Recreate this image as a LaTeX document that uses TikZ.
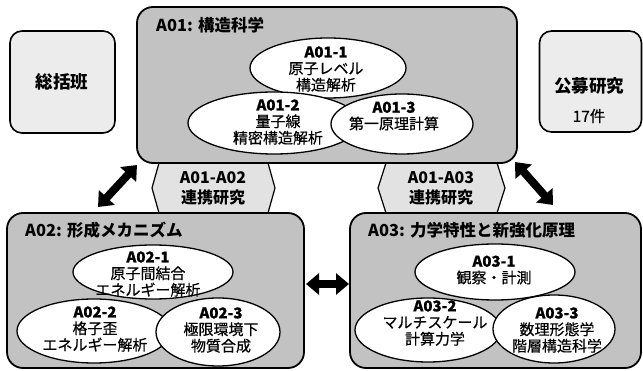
\documentclass[tikz,border=0pt]{standalone}
\usepackage{fontspec}
\setmainfont{Noto Sans CJK JP}
\newfontfamily\medfont[FakeBold=0.5]{Noto Sans CJK JP}
\usetikzlibrary{arrows.meta,shapes.geometric}
\definecolor{boxgray}{RGB}{194,194,194}
\definecolor{lightbox}{RGB}{236,236,236}
\definecolor{hexgray}{RGB}{226,226,226}
\begin{document}
\begin{tikzpicture}[x=1pt,y=-1pt,
  grp/.style={draw=black,line width=1.8pt,fill=boxgray,rounded corners=16pt,inner sep=0pt},
  side/.style={draw=black,line width=1.6pt,fill=lightbox,rounded corners=12pt,inner sep=0pt},
  sub/.style={ellipse,draw=black,line width=1.3pt,fill=white,inner sep=0pt},
  subtext/.style={align=center,inner sep=0pt,font=\medfont\fontsize{15}{16.5}\selectfont},
  title/.style={anchor=west,inner sep=0pt,font=\bfseries\fontsize{16.5}{18}\selectfont},
  hexa/.style={draw=black,line width=1.2pt,fill=hexgray},
  hextext/.style={align=center,inner sep=0pt,font=\bfseries\fontsize{16}{20}\selectfont},
  sidetext/.style={inner sep=0pt,font=\bfseries\fontsize{17.5}{20}\selectfont},
  link/.style={line width=8pt,{Triangle[width=21pt,length=13pt]}-{Triangle[width=21pt,length=13pt]}}
]
\useasboundingbox (0,0) rectangle (643,371);
% connector hexagons (behind boxes)
\draw[hexa] (152,188) -- (159,163) -- (268,163) -- (275,188) -- (268,213) -- (159,213) -- cycle;
\draw[hexa] (378,188) -- (386,163) -- (497,163) -- (505,188) -- (497,213) -- (386,213) -- cycle;
\node[hextext] (h12) at (213,188) {A01-A02\\連携研究};
\node[hextext] (h13) at (441,188) {A01-A03\\連携研究};
% side boxes
\node[side,minimum width=105pt,minimum height=102pt] (sokatsu) at (62.5,82) {};
\node[sidetext] (sokatsut) at (62,82) {総括班};
\node[side,minimum width=102pt,minimum height=101pt] (kobo) at (590.5,81.5) {};
\node[sidetext] (kobot) at (589,86) {公募研究};
\node[inner sep=0pt,font=\medfont\fontsize{15.5}{18}\selectfont] (kobon) at (589,116) {17件};
% group boxes
\node[grp,minimum width=380pt,minimum height=156pt] (a01) at (327,85) {};
\node[grp,minimum width=297pt,minimum height=155pt] (a02) at (155.5,290.5) {};
\node[grp,minimum width=291pt,minimum height=155pt] (a03) at (495.5,290.5) {};
\node[title] (a01t) at (156,25) {A01: 構造科学};
\node[title] (a02t) at (25,230) {A02: 形成メカニズム};
\node[title] (a03t) at (368,230) {A03: 力学特性と新強化原理};
% A01 ellipses
\node[sub,minimum width=156pt,minimum height=60pt] (e11) at (328,68) {};
\node[sub,minimum width=172pt,minimum height=62pt] (e12) at (274,123) {};
\node[sub,minimum width=142pt,minimum height=60pt] (e13) at (402,124) {};
\node[subtext] (t11) at (326,69) {\textbf{A01-1}\\原子レベル\\構造解析};
\node[subtext] (t12) at (278,122) {\textbf{A01-2}\\量子線\\精密構造解析};
\node[subtext] (t13) at (394,116) {\textbf{A01-3}\\第一原理計算};
% A02 ellipses
\node[sub,minimum width=160pt,minimum height=54pt] (e21) at (153,272) {};
\node[sub,minimum width=154pt,minimum height=64pt] (e22) at (94,331) {};
\node[sub,minimum width=124pt,minimum height=68pt] (e23) at (218,332) {};
\node[subtext] (t21) at (148,274) {\textbf{A02-1}\\原子間結合\\エネルギー解析};
\node[subtext] (t22) at (95,329) {\textbf{A02-2}\\格子歪\\エネルギー解析};
\node[subtext] (t23) at (221,330) {\textbf{A02-3}\\極限環境下\\物質合成};
% A03 ellipses
\node[sub,minimum width=160pt,minimum height=56pt] (e31) at (495,272) {};
\node[sub,minimum width=146pt,minimum height=64pt] (e32) at (428,330) {};
\node[sub,minimum width=122pt,minimum height=68pt] (e33) at (554,329) {};
\node[subtext] (t31) at (494,270) {\textbf{A03-1}\\観察・計測};
\node[subtext] (t32) at (435,323) {\textbf{A03-2}\\マルチスケール\\計算力学};
\node[subtext] (t33) at (557,330) {\textbf{A03-3}\\数理形態学\\階層構造科学};
% double arrows
\coordinate (l1a) at (98,207);
\coordinate (l1b) at (137,165);
\coordinate (l2a) at (515,162);
\coordinate (l2b) at (553,205);
\coordinate (l3a) at (306,284);
\coordinate (l3b) at (349,284);
\draw[link] (l1a) -- (l1b);
\draw[link] (l2a) -- (l2b);
\draw[link] (l3a) -- (l3b);
\end{tikzpicture}
\end{document}
